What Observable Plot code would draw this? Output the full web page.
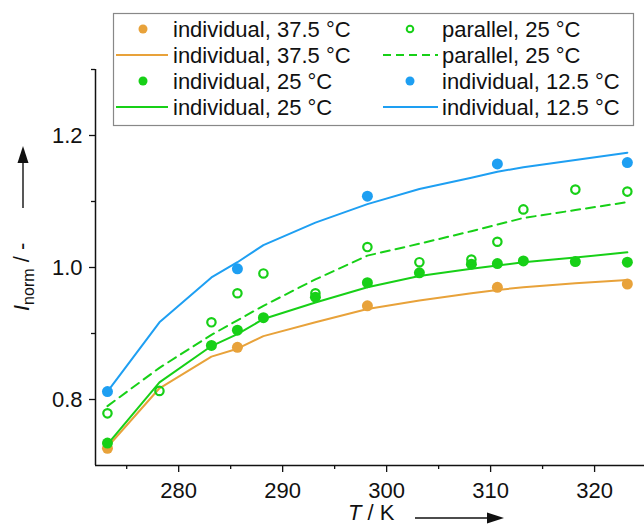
<!DOCTYPE html>
<html>
<head>
<meta charset="utf-8">
<script src="https://cdn.jsdelivr.net/npm/d3@7"></script>
<script src="https://cdn.jsdelivr.net/npm/@observablehq/plot@0.6"></script>
<style>
  html, body { margin: 0; padding: 0; background: #fff; }
  #chart { width: 644px; height: 527px; overflow: hidden; }
  svg { font-family: "Liberation Sans", Arial, sans-serif; }
</style>
</head>
<body>
<div id="chart"></div>
<script>
// model curves (lines)
const lineT = [273.15, 278.15, 283.15, 285.65, 288.15, 293.15, 298.15, 303.15, 308.15, 310.65, 313.15, 318.15, 323.15];
const indiv375Line = [0.728, 0.817, 0.865, 0.877, 0.896, 0.917, 0.937, 0.950, 0.961, 0.966, 0.970, 0.976, 0.981];
const indiv25Line  = [0.732, 0.826, 0.881, 0.899, 0.922, 0.947, 0.970, 0.987, 0.998, 1.003, 1.008, 1.015, 1.023];
const parallel25Line = [0.790, 0.848, 0.898, 0.920, 0.942, 0.982, 1.018, 1.036, 1.055, 1.065, 1.075, 1.087, 1.099];
const indiv125Line = [0.812, 0.917, 0.985, 1.008, 1.034, 1.068, 1.096, 1.119, 1.136, 1.145, 1.152, 1.163, 1.174];

// measured points
const indiv375T = [273.15, 285.65, 298.15, 310.65, 323.15];
const indiv375V = [0.726, 0.879, 0.942, 0.970, 0.975];
const indiv125T = [273.15, 285.65, 298.15, 310.65, 323.15];
const indiv125V = [0.812, 0.998, 1.108, 1.157, 1.159];
const indiv25T = [273.15, 283.15, 285.65, 288.15, 293.15, 298.15, 303.15, 308.15, 310.65, 313.15, 318.15, 323.15];
const indiv25V = [0.734, 0.882, 0.905, 0.924, 0.955, 0.977, 0.992, 1.005, 1.006, 1.010, 1.009, 1.008];
const parallel25T = [273.15, 278.15, 283.15, 285.65, 288.15, 293.15, 298.15, 303.15, 308.15, 310.65, 313.15, 318.15, 323.15];
const parallel25V = [0.779, 0.813, 0.917, 0.961, 0.991, 0.961, 1.031, 1.008, 1.012, 1.039, 1.088, 1.118, 1.115];

// ticks
const xMajor = [280, 290, 300, 310, 320];
const xMinor = [275, 285, 295, 305, 315];
const yMajor = [0.8, 1.0, 1.2];
const yMinor = [0.9, 1.1, 1.3];

const legendLabels = ["individual, 37.5 °C", "individual, 37.5 °C", "individual, 25 °C", "individual, 25 °C",
                      "parallel, 25 °C", "parallel, 25 °C", "individual, 12.5 °C", "individual, 12.5 °C"];

const ORANGE = "#E8A23A", GREEN = "#17D017", BLUE = "#1E9FF2";

const toRows = (xs, ys) => xs.map((x, i) => ({T: x, v: ys[i]}));

const fontSize = 22;
const svg = Plot.plot({
  width: 644,
  height: 527,
  marginLeft: 95,
  marginRight: 0,
  marginTop: 69,
  marginBottom: 62,
  style: {fontFamily: "'Liberation Sans', Arial, sans-serif", fontSize: fontSize + "px", color: "#111", background: "#fff"},
  x: {domain: [272, 324.8]},
  y: {domain: [0.7, 1.3]},
  marks: [
    Plot.axisX({ticks: xMajor, tickSize: 7, tickPadding: 10, tickFormat: d => d, label: null, fontSize: fontSize, strokeWidth: 1.3}),
    Plot.axisX({ticks: xMinor, tickSize: 4, tickFormat: () => "", label: null, strokeWidth: 1.3}),
    Plot.axisY({ticks: yMajor, tickSize: 6, tickPadding: 7, tickFormat: d3.format(".1f"), label: null, fontSize: fontSize, strokeWidth: 1.3}),
    Plot.axisY({ticks: yMinor, tickSize: 4, tickFormat: () => "", label: null, strokeWidth: 1.3}),
    Plot.ruleX([272], {stroke: "#111", strokeWidth: 1.5}),
    Plot.ruleY([0.7], {stroke: "#111", strokeWidth: 1.5}),
    Plot.line(toRows(lineT, indiv375Line), {x: "T", y: "v", stroke: ORANGE, strokeWidth: 2}),
    Plot.dot(toRows(indiv375T, indiv375V), {x: "T", y: "v", r: 5.5, fill: ORANGE, stroke: "none"}),
    Plot.line(toRows(lineT, indiv25Line), {x: "T", y: "v", stroke: GREEN, strokeWidth: 2}),
    Plot.dot(toRows(indiv25T, indiv25V), {x: "T", y: "v", r: 5.5, fill: GREEN, stroke: "none"}),
    Plot.line(toRows(lineT, parallel25Line), {x: "T", y: "v", stroke: GREEN, strokeWidth: 2, strokeDasharray: "9,6"}),
    Plot.dot(toRows(parallel25T, parallel25V), {x: "T", y: "v", r: 4.2, fill: "none", stroke: GREEN, strokeWidth: 2.2}),
    Plot.line(toRows(lineT, indiv125Line), {x: "T", y: "v", stroke: BLUE, strokeWidth: 2}),
    Plot.dot(toRows(indiv125T, indiv125V), {x: "T", y: "v", r: 5.5, fill: BLUE, stroke: "none"})
  ]
});
document.getElementById("chart").appendChild(svg);

const s = d3.select(svg);
// Arrow helper
function arrow(g, x1, y1, x2, y2) {
  const dx = x2 - x1, dy = y2 - y1, len = Math.hypot(dx, dy);
  const ux = dx / len, uy = dy / len, hl = 17, hw = 5.5;
  const bx = x2 - ux * hl, by = y2 - uy * hl;
  g.append("line").attr("x1", x1).attr("y1", y1).attr("x2", bx).attr("y2", by)
    .attr("stroke", "#111").attr("stroke-width", 1.4);
  g.append("polygon")
    .attr("points", `${x2},${y2} ${bx - uy * hw},${by + ux * hw} ${bx + uy * hw},${by - ux * hw}`)
    .attr("fill", "#111");
}

// Y axis title
const yt = s.append("text")
  .attr("transform", "translate(29,311) rotate(-90)")
  .attr("text-anchor", "start")
  .attr("font-size", fontSize).attr("fill", "#111");
yt.append("tspan").attr("font-style", "italic").text("I");
yt.append("tspan").attr("font-size", 16).attr("dy", 5).text("norm");
yt.append("tspan").attr("dy", -5).text(" / -");
arrow(s.append("g"), 23, 208, 23, 146);

// X axis title
const xt = s.append("text").attr("x", 348).attr("y", 520)
  .attr("text-anchor", "start")
  .attr("font-size", fontSize).attr("fill", "#111");
xt.append("tspan").attr("font-style", "italic").text("T");
xt.append("tspan").text(" / K");
arrow(s.append("g"), 415, 518, 504, 518);

// Legend
const lg = s.append("g");
lg.append("rect").attr("x", 113.5).attr("y", 13.5).attr("width", 520).attr("height", 112)
  .attr("fill", "#fff").attr("stroke", "#888").attr("stroke-width", 1.2);
const rowY = [29, 55, 81, 107];
const cols = [{sym: 143, l1: 116, l2: 168, tx: 173}, {sym: 410, l1: 383, l2: 438, tx: 442}];
const entries = [
  {c: 0, r: 0, type: "dot", color: ORANGE},
  {c: 0, r: 1, type: "line", color: ORANGE},
  {c: 0, r: 2, type: "dot", color: GREEN},
  {c: 0, r: 3, type: "line", color: GREEN},
  {c: 1, r: 0, type: "open", color: GREEN},
  {c: 1, r: 1, type: "dash", color: GREEN},
  {c: 1, r: 2, type: "dot", color: BLUE},
  {c: 1, r: 3, type: "line", color: BLUE}
];
entries.forEach((e, i) => {
  const col = cols[e.c], y = rowY[e.r];
  if (e.type === "dot") {
    lg.append("circle").attr("cx", col.sym).attr("cy", y).attr("r", 4.5).attr("fill", e.color);
  } else if (e.type === "open") {
    lg.append("circle").attr("cx", col.sym).attr("cy", y).attr("r", 3.3).attr("fill", "none")
      .attr("stroke", e.color).attr("stroke-width", 2);
  } else {
    const ln = lg.append("line").attr("x1", col.l1).attr("x2", col.l2).attr("y1", y).attr("y2", y)
      .attr("stroke", e.color).attr("stroke-width", 2);
    if (e.type === "dash") ln.attr("stroke-dasharray", "8,5");
  }
  lg.append("text").attr("x", col.tx).attr("y", y).attr("dy", "0.36em")
    .attr("text-anchor", "start")
    .attr("font-size", fontSize).attr("fill", "#111").text(legendLabels[i]);
});
</script>
</body>
</html>
